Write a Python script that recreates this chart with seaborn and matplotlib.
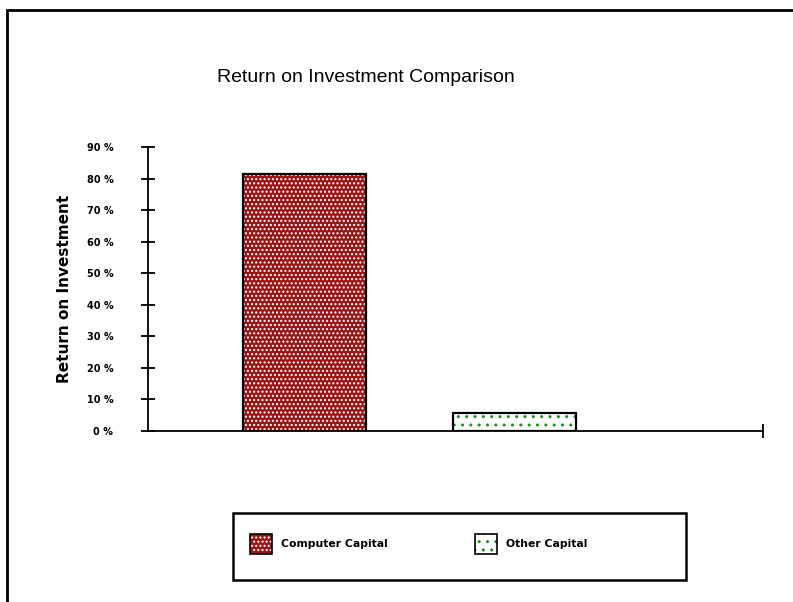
import matplotlib
matplotlib.use('Agg')
import matplotlib.pyplot as plt
import seaborn as sns
from matplotlib.patches import Patch, Rectangle
from matplotlib.legend_handler import HandlerTuple

# data
categories = ['Computer Capital', 'Other Capital']
roi = [81.5, 5.8]
ytick_vals = [0, 10, 20, 30, 40, 50, 60, 70, 80, 90]
ytick_labels = [f'{v} %' for v in ytick_vals]

# styles
face_colors = ['#9a1414', '#ffffff']
dot_colors = ['#ffffff', '#1f8f1f']
hatches = ['....', '..']

sns.set_style('white')
plt.rcParams['font.family'] = ['Liberation Sans', 'DejaVu Sans']
for k in ['text.color', 'axes.labelcolor', 'xtick.color', 'ytick.color']:
    plt.rcParams[k] = 'black'

fig = plt.figure(figsize=(7.93, 6.02), dpi=100)
ax = fig.add_axes([148/793, 1-431/602, (763-148)/793, (431-147)/602])

sns.barplot(x=categories, y=roi, hue=categories, palette=face_colors,
            width=0.586, legend=False, ax=ax, saturation=1)

# hatch the bars, then outline them in black
for p, dc, h in zip(ax.patches, dot_colors, hatches):
    p.set_edgecolor(dc)
    p.set_hatch(h)
    p.set_linewidth(0)
    ax.add_patch(Rectangle(p.get_xy(), p.get_width(), p.get_height(),
                           fill=False, edgecolor='black', linewidth=1.6, zorder=3))

ax.set_ylim(0, 90)
ax.set_xlim(-0.745, 2.183)
ax.set_yticks(ytick_vals)
ax.set_yticklabels(ytick_labels, fontsize=7, fontweight='bold', family='DejaVu Sans')
ax.set_xticks([2.183])
ax.set_xticklabels([''])
ax.tick_params(axis='both', left=True, bottom=True, direction='inout', length=10,
               width=1.3, color='black')
ax.tick_params(axis='y', pad=20)
for s in ['top', 'right']:
    ax.spines[s].set_visible(False)
for s in ['left', 'bottom']:
    ax.spines[s].set_color('black')
    ax.spines[s].set_linewidth(1.3)
ax.set_xlabel('')
ax.set_ylabel('Return on Investment', fontsize=11, fontweight='bold', family='DejaVu Sans')
ax.yaxis.set_label_coords((72-148)/(763-148), 0.5)

fig.text(366/793, 1-78/602, 'Return on Investment Comparison', ha='center', va='center', fontsize=14)

# legend (frame drawn separately so the columns sit like the original)
handles = []
for fc, dc, h in zip(face_colors, dot_colors, hatches):
    handles.append((Patch(facecolor=fc, edgecolor=dc, hatch=h, linewidth=0),
                    Patch(fill=False, edgecolor='black', linewidth=1.2)))
leg = fig.legend(handles, categories, handler_map={tuple: HandlerTuple(ndivide=1, pad=0)},
                 loc='center left', bbox_to_anchor=(250/793, 1-544/602),
                 ncol=2, prop={'family': 'DejaVu Sans', 'weight': 'bold', 'size': 7.8},
                 handlelength=2.0, handleheight=2.4, handletextpad=0.9, borderpad=0,
                 borderaxespad=0, columnspacing=8.0, frameon=False)
fig.add_artist(Rectangle((233/793, 1-580/602), 453/793, 67/602, fill=False,
                         edgecolor='black', linewidth=1.8, transform=fig.transFigure))

# outer frame
fig.add_artist(Rectangle((7/793, -0.1), 1.1, 1.1-10/602, fill=False, edgecolor='black',
                         linewidth=2, transform=fig.transFigure))

fig.savefig('out.png', dpi=100)
